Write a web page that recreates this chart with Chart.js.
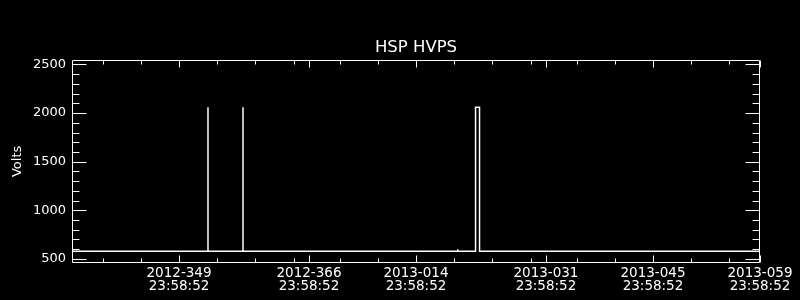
<!DOCTYPE html>
<html><head><meta charset="utf-8">
<script src="https://cdn.jsdelivr.net/npm/chart.js@4"></script>
<style>html,body{margin:0;padding:0;background:#000;}</style>
</head><body>
<canvas id="c" width="800" height="300" style="width:800px;height:300px;display:block"></canvas>
<script>
// ---- data (x = running day number counted from 2012-000, at 23:58:52) ----
const chartTitle = 'HSP HVPS';
const yAxisTitle = 'Volts';
const xRange = [335, 425];
const yRange = [455, 2551];
const xMajorTicks = [349, 366, 380, 397, 411, 425];
const xTickDates = ['2012-349', '2012-366', '2013-014', '2013-031', '2013-045', '2013-059'];
const xTickTimes = ['23:58:52', '23:58:52', '23:58:52', '23:58:52', '23:58:52', '23:58:52'];
const xMinorTicks = [339, 344, 354, 359, 364, 370, 375, 385, 390, 395, 401, 406, 416, 421];
const yMajorTicks = [500, 1000, 1500, 2000, 2500];
const yMinorTicks = [600, 700, 800, 900, 1100, 1200, 1300, 1400, 1600, 1700, 1800, 1900, 2100, 2200, 2300, 2400];
const times = [335, 352.79, 352.79, 352.79, 357.37, 357.37, 357.37, 385.45, 385.45, 385.46, 387.79, 387.79, 388.31, 388.31, 425];
const volts = [580, 580, 2060, 580, 580, 2060, 580, 580, 600, 580, 580, 2060, 2060, 580, 580];

const WHITE = '#ffffff';
const FONT = 'DejaVu Sans';

const frame = {
  id: 'frame',
  beforeDraw(chart) {
    const c = chart.ctx;
    c.save(); c.fillStyle = '#000'; c.fillRect(0, 0, chart.width, chart.height); c.restore();
  },
  afterDraw(chart) {
    const c = chart.ctx, a = chart.chartArea;
    const xs = chart.scales.x, ys = chart.scales.y;
    const L = Math.round(a.left) + 0.5, R = Math.round(a.right) - 0.5;
    const T = Math.round(a.top) + 0.5, B = Math.round(a.bottom) - 0.5;
    c.save();
    c.strokeStyle = WHITE; c.lineWidth = 1;
    c.beginPath();
    c.rect(L, T, R - L, B - T);
    const vt = (v, len) => {
      const x = Math.round(xs.getPixelForValue(v)) + 0.5;
      c.moveTo(x, B); c.lineTo(x, B - len);
      c.moveTo(x, T); c.lineTo(x, T + len);
    };
    const ht = (v, len) => {
      const y = Math.round(ys.getPixelForValue(v)) + 0.5;
      c.moveTo(L, y); c.lineTo(L + len, y);
      c.moveTo(R, y); c.lineTo(R - len, y);
    };
    xMajorTicks.forEach(v => vt(v, 7));
    xMinorTicks.forEach(v => vt(v, 4));
    yMajorTicks.forEach(v => ht(v, 14));
    yMinorTicks.forEach(v => ht(v, 7));
    c.stroke();
    c.restore();
  }
};

new Chart(document.getElementById('c'), {
  type: 'line',
  data: {
    datasets: [{
      data: times.map((t, i) => ({ x: t, y: volts[i] })),
      borderColor: WHITE,
      borderWidth: 1.5,
      pointRadius: 0,
      tension: 0,
      fill: false
    }]
  },
  options: {
    responsive: false,
    animation: false,
    layout: { padding: { left: 0, right: 40, top: 0, bottom: 0 } },
    plugins: {
      legend: { display: false },
      tooltip: { enabled: false },
      title: {
        display: true, text: chartTitle, color: WHITE, fullSize: false,
        font: { family: FONT, size: 16.5, weight: 'normal', lineHeight: 1.2 },
        padding: { top: 37.6, bottom: 2.1 }
      }
    },
    scales: {
      x: {
        type: 'linear', min: xRange[0], max: xRange[1],
        afterBuildTicks: s => { s.ticks = xMajorTicks.map(v => ({ value: v })); },
        afterFit: s => { s.height = 36.7; },
        grid: { display: false, drawTicks: false },
        border: { display: false },
        ticks: {
          color: WHITE, autoSkip: false, maxRotation: 0, padding: 3,
          font: { family: FONT, size: 13.5, lineHeight: 1.0 },
          callback: v => { const i = xMajorTicks.indexOf(v); return i < 0 ? '' : [xTickDates[i], xTickTimes[i]]; }
        }
      },
      y: {
        type: 'linear', min: yRange[0], max: yRange[1],
        afterBuildTicks: s => { s.ticks = yMajorTicks.map(v => ({ value: v })); },
        afterFit: s => { s.width = 72; },
        grid: { display: false, drawTicks: false },
        border: { display: false },
        title: {
          display: true, text: yAxisTitle, color: WHITE,
          font: { family: FONT, size: 13 }, padding: { top: 10, bottom: 0 }
        },
        ticks: {
          color: WHITE, padding: 6,
          font: { family: FONT, size: 13 },
          callback: v => String(v)
        }
      }
    }
  },
  plugins: [frame]
});
</script>
</body></html>
